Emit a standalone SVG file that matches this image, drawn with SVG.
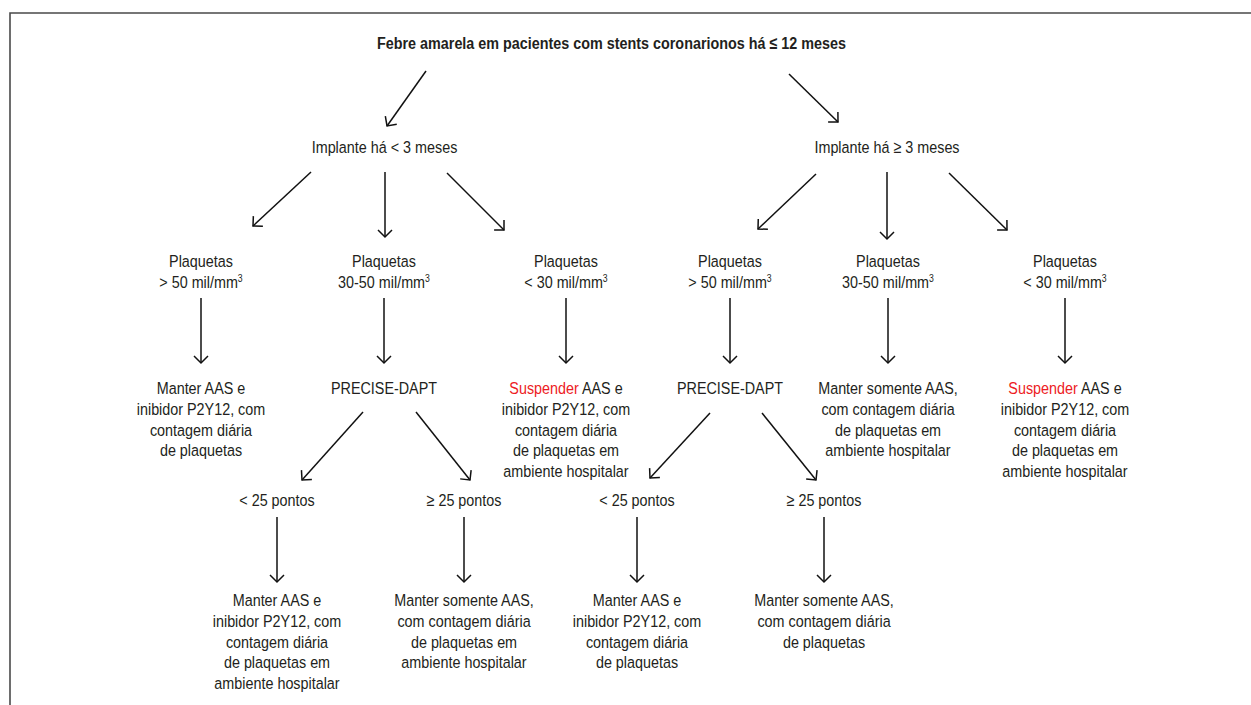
<svg xmlns="http://www.w3.org/2000/svg" width="1251" height="705" viewBox="0 0 1251 705">
<style>
text{font-family:"Liberation Sans",Arial,sans-serif;font-size:17.4px;fill:#231f20;text-anchor:middle}
.b{font-weight:bold}
.r{fill:#ed1c24}
.sup{font-size:10.5px}
.c line{stroke:#111;stroke-width:1.5;marker-end:url(#ah)}
.frame{stroke:#4a4a4a;stroke-width:1.6;fill:none}
</style>
<defs>
<marker id="ah" markerUnits="userSpaceOnUse" markerWidth="20" markerHeight="20" viewBox="-10 -10 20 20" refX="0" refY="0" orient="auto">
<path d="M-7,-7 L0,0 L-7,7" fill="none" stroke="#111" stroke-width="1.5"/>
</marker>
</defs>
<rect width="1251" height="705" fill="#fff"/>
<path class="frame" d="M1251,13 H10 V705"/>

<g id="title" transform="translate(611.5 1.5) scale(0.826 1)"><text class="b" x="0" y="48">Febre amarela em pacientes com stents coronarionos há ≤ 12 meses</text></g>

<g id="implante-lt3" transform="translate(384.5 1.5) scale(0.826 1)"><text x="0" y="152">Implante há &lt; 3 meses</text></g>
<g id="implante-ge3" transform="translate(887 1.5) scale(0.826 1)"><text x="0" y="152">Implante há ≥ 3 meses</text></g>

<g id="plaq-l1" transform="translate(201 1.5) scale(0.826 1)"><text x="0" y="266">Plaquetas</text><text x="0" y="287">&gt; 50 mil/mm<tspan class="sup" dy="-6">3</tspan></text></g>
<g id="plaq-l2" transform="translate(384 1.5) scale(0.826 1)"><text x="0" y="266">Plaquetas</text><text x="0" y="287">30-50 mil/mm<tspan class="sup" dy="-6">3</tspan></text></g>
<g id="plaq-l3" transform="translate(566 1.5) scale(0.826 1)"><text x="0" y="266">Plaquetas</text><text x="0" y="287">&lt; 30 mil/mm<tspan class="sup" dy="-6">3</tspan></text></g>
<g id="plaq-r1" transform="translate(730 1.5) scale(0.826 1)"><text x="0" y="266">Plaquetas</text><text x="0" y="287">&gt; 50 mil/mm<tspan class="sup" dy="-6">3</tspan></text></g>
<g id="plaq-r2" transform="translate(888 1.5) scale(0.826 1)"><text x="0" y="266">Plaquetas</text><text x="0" y="287">30-50 mil/mm<tspan class="sup" dy="-6">3</tspan></text></g>
<g id="plaq-r3" transform="translate(1065 1.5) scale(0.826 1)"><text x="0" y="266">Plaquetas</text><text x="0" y="287">&lt; 30 mil/mm<tspan class="sup" dy="-6">3</tspan></text></g>

<g id="acao-l1" transform="translate(201 1.5) scale(0.826 1)">
<text x="0" y="393">Manter AAS e</text><text x="0" y="414">inibidor P2Y12, com</text><text x="0" y="434.5">contagem diária</text><text x="0" y="455">de plaquetas</text></g>
<g id="precise-l" transform="translate(384 1.5) scale(0.826 1)"><text x="0" y="393">PRECISE-DAPT</text></g>
<g id="acao-l3" transform="translate(566 1.5) scale(0.826 1)">
<text x="0" y="393"><tspan class="r">Suspender</tspan> AAS e</text><text x="0" y="414">inibidor P2Y12, com</text><text x="0" y="434.5">contagem diária</text><text x="0" y="455">de plaquetas em</text><text x="0" y="476">ambiente hospitalar</text></g>
<g id="precise-r" transform="translate(730 1.5) scale(0.826 1)"><text x="0" y="393">PRECISE-DAPT</text></g>
<g id="acao-r2" transform="translate(888 1.5) scale(0.826 1)">
<text x="0" y="393">Manter somente AAS,</text><text x="0" y="414">com contagem diária</text><text x="0" y="434.5">de plaquetas em</text><text x="0" y="455">ambiente hospitalar</text></g>
<g id="acao-r3" transform="translate(1065 1.5) scale(0.826 1)">
<text x="0" y="393"><tspan class="r">Suspender</tspan> AAS e</text><text x="0" y="414">inibidor P2Y12, com</text><text x="0" y="434.5">contagem diária</text><text x="0" y="455">de plaquetas em</text><text x="0" y="476">ambiente hospitalar</text></g>

<g id="pontos-l1" transform="translate(277 1.5) scale(0.826 1)"><text x="0" y="505">&lt; 25 pontos</text></g>
<g id="pontos-l2" transform="translate(464 1.5) scale(0.826 1)"><text x="0" y="505">≥ 25 pontos</text></g>
<g id="pontos-r1" transform="translate(637 1.5) scale(0.826 1)"><text x="0" y="505">&lt; 25 pontos</text></g>
<g id="pontos-r2" transform="translate(824 1.5) scale(0.826 1)"><text x="0" y="505">≥ 25 pontos</text></g>

<g id="final-l1" transform="translate(277 1.5) scale(0.826 1)">
<text x="0" y="605">Manter AAS e</text><text x="0" y="626">inibidor P2Y12, com</text><text x="0" y="646.5">contagem diária</text><text x="0" y="667">de plaquetas em</text><text x="0" y="688">ambiente hospitalar</text></g>
<g id="final-l2" transform="translate(464 1.5) scale(0.826 1)">
<text x="0" y="605">Manter somente AAS,</text><text x="0" y="626">com contagem diária</text><text x="0" y="646.5">de plaquetas em</text><text x="0" y="667">ambiente hospitalar</text></g>
<g id="final-r1" transform="translate(637 1.5) scale(0.826 1)">
<text x="0" y="605">Manter AAS e</text><text x="0" y="626">inibidor P2Y12, com</text><text x="0" y="646.5">contagem diária</text><text x="0" y="667">de plaquetas</text></g>
<g id="final-r2" transform="translate(824 1.5) scale(0.826 1)">
<text x="0" y="605">Manter somente AAS,</text><text x="0" y="626">com contagem diária</text><text x="0" y="646.5">de plaquetas</text></g>

<g id="connectors" class="c">
<line x1="426" y1="71" x2="387" y2="126"/>
<line x1="789" y1="74" x2="838" y2="122"/>
<line x1="311" y1="172" x2="253" y2="226"/>
<line x1="385" y1="172" x2="385" y2="237"/>
<line x1="447" y1="173" x2="504" y2="230"/>
<line x1="816" y1="174" x2="758" y2="229"/>
<line x1="887" y1="172" x2="887" y2="239"/>
<line x1="949" y1="173" x2="1007" y2="230"/>
<line x1="201" y1="298" x2="201" y2="363"/>
<line x1="384" y1="298" x2="384" y2="363"/>
<line x1="566" y1="298" x2="566" y2="363"/>
<line x1="730" y1="298" x2="730" y2="363"/>
<line x1="888" y1="298" x2="888" y2="363"/>
<line x1="1065" y1="298" x2="1065" y2="363"/>
<line x1="363" y1="412" x2="302" y2="480"/>
<line x1="416" y1="412" x2="470" y2="480"/>
<line x1="710" y1="413" x2="650" y2="478"/>
<line x1="762" y1="413" x2="816" y2="480"/>
<line x1="277" y1="517" x2="277" y2="582"/>
<line x1="464" y1="517" x2="464" y2="582"/>
<line x1="637" y1="517" x2="637" y2="582"/>
<line x1="824" y1="517" x2="824" y2="582"/>
</g>
</svg>
